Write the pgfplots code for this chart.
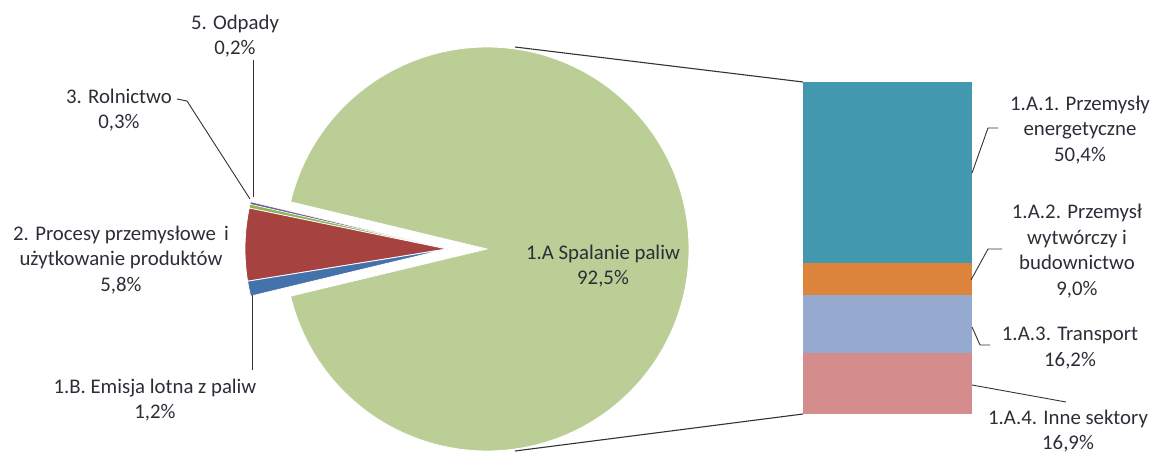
\documentclass[border=0pt]{standalone}
\usepackage{pgfplots}
\pgfplotsset{compat=1.18}
\usepackage{fontspec}
\setmainfont{Carlito}
\definecolor{cSp}{RGB}{186,206,150}
\definecolor{cOdp}{RGB}{118,92,160}
\definecolor{cRol}{RGB}{140,182,80}
\definecolor{cPro}{RGB}{166,66,64}
\definecolor{cEm}{RGB}{68,114,170}
\definecolor{cA1}{RGB}{66,152,174}
\definecolor{cA2}{RGB}{220,132,60}
\definecolor{cA3}{RGB}{150,170,208}
\definecolor{cA4}{RGB}{212,140,140}
\definecolor{txt}{RGB}{45,45,55}
\tikzset{lbl/.style={font=\fontsize{20.8}{25.5}\selectfont, text=txt, align=center, inner sep=0pt}}
% shares (%)
\def\pOdp{0.2}\def\pRol{0.3}\def\pPro{5.8}\def\pEm{1.2}\def\pSp{92.5}
\def\pAa{50.4}\def\pAb{9.0}\def\pAc{16.2}\def\pAd{16.9}
\pgfmathsetmacro{\aZ}{180-3.6*(\pOdp+\pRol+\pPro+\pEm)/2}
\pgfmathsetmacro{\aA}{\aZ+3.6*\pOdp}
\pgfmathsetmacro{\aB}{\aA+3.6*\pRol}
\pgfmathsetmacro{\aC}{\aB+3.6*\pPro}
\pgfmathsetmacro{\aD}{\aC+3.6*\pEm}
\pgfmathsetmacro{\gS}{\aD-360}
% bar
\pgfmathsetmacro{\k}{332/\pSp}
\pgfmathsetmacro{\yA}{82}
\pgfmathsetmacro{\yB}{\yA+\k*\pAa}
\pgfmathsetmacro{\yC}{\yB+\k*\pAb}
\pgfmathsetmacro{\yD}{\yC+\k*\pAc}
\pgfmathsetmacro{\yE}{\yD+\k*\pAd}
\begin{document}
\begin{tikzpicture}
\begin{axis}[name=ax, x=1pt, y=1pt, xmin=0, xmax=1158, ymin=0, ymax=454,
  y dir=reverse, axis lines=none, scale only axis, clip=false]
% big slice
\addplot[fill=cSp, draw=white, line width=0.8pt, domain=\gS:\aZ, samples=200]
  ({487+202*cos(x)},{249-202*sin(x)}) -- (487,249) -- cycle;
% exploded small slices
\addplot[fill=cOdp, draw=white, line width=0.5pt, domain=\aZ:\aA, samples=4]
  ({447+202*cos(x)},{249-202*sin(x)}) -- (447,249) -- cycle;
\addplot[fill=cRol, draw=white, line width=0.5pt, domain=\aA:\aB, samples=4]
  ({447+202*cos(x)},{249-202*sin(x)}) -- (447,249) -- cycle;
\addplot[fill=cPro, draw=white, line width=0.8pt, domain=\aB:\aC, samples=20]
  ({447+202*cos(x)},{249-202*sin(x)}) -- (447,249) -- cycle;
\addplot[fill=cEm, draw=white, line width=0.8pt, domain=\aC:\aD, samples=6]
  ({447+202*cos(x)},{249-202*sin(x)}) -- (447,249) -- cycle;
% stacked bar
\addplot[fill=cA1, draw=none] coordinates {(803,\yA) (972,\yA) (972,\yB) (803,\yB)} -- cycle;
\addplot[fill=cA2, draw=none] coordinates {(803,\yB) (972,\yB) (972,\yC) (803,\yC)} -- cycle;
\addplot[fill=cA3, draw=none] coordinates {(803,\yC) (972,\yC) (972,\yD) (803,\yD)} -- cycle;
\addplot[fill=cA4, draw=none] coordinates {(803,\yD) (972,\yD) (972,\yE) (803,\yE)} -- cycle;
% connectors
\addplot[black!80, line width=1.1pt, mark=none] coordinates {(515,47) (803,82)};
\addplot[black!80, line width=1.1pt, mark=none] coordinates {(515,451) (803,414)};
% leader lines
\addplot[black!80, line width=0.9pt, mark=none] coordinates {(253,60) (253,197)};
\addplot[black!80, line width=0.9pt, mark=none] coordinates {(177,99) (187,101) (250,199)};
\addplot[black!80, line width=0.9pt, mark=none] coordinates {(252,295) (252,370)};
\addplot[black!80, line width=0.9pt, mark=none] coordinates {(972,173) (988,128) (998,128)};
\addplot[black!80, line width=0.9pt, mark=none] coordinates {(971,280) (988,249) (1002,249)};
\addplot[black!80, line width=0.9pt, mark=none] coordinates {(972,327) (980,345) (990,345)};
\addplot[black!80, line width=0.9pt, mark=none] coordinates {(972,385) (1066,402)};
% labels
\node[lbl] at (235,36) {5. Odpady\\0,2\%};
\node[lbl] at (119,110) {3. Rolnictwo\\0,3\%};
\node[lbl] at (121,260) {2. Procesy przemysłowe\, i\\użytkowanie produktów\\5,8\%};
\node[lbl] at (155,400) {1.B. Emisja lotna z paliw\\1,2\%};
\node[lbl] at (603,266) {1.A Spalanie paliw\\92,5\%};
\node[lbl] at (1080,130) {1.A.1. Przemysły\\energetyczne\\50,4\%};
\node[lbl] at (1077,251) {1.A.2. Przemysł\\wytwórczy i\\budownictwo\\9,0\%};
\node[lbl] at (1070,348) {1.A.3. Transport\\16,2\%};
\node[lbl] at (1068,431) {1.A.4. Inne sektory\\16,9\%};
\end{axis}
\pgfresetboundingbox
\path (ax.south west) rectangle (ax.north east);
\end{tikzpicture}
\end{document}
